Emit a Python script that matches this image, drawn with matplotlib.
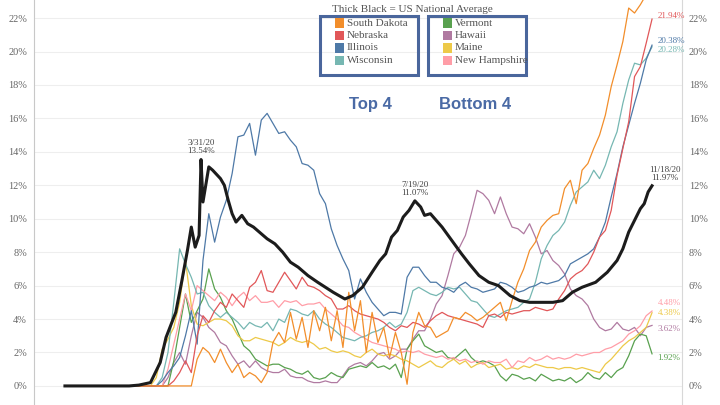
import matplotlib
matplotlib.use("Agg")
import matplotlib.pyplot as plt
from matplotlib.patches import Rectangle
from matplotlib.ticker import FuncFormatter
import pandas as pd

# positivity rate (%) of the 8 states, sampled every 3 days from Mar 2 to Nov 18
grid = pd.date_range("2020-03-02", "2020-11-18", freq="3D")
first_day = pd.Timestamp("2020-01-21")

south_dakota = [0, 0, 0, 0, 0, 0, 0, 0, 0, 1.6,
                2.3, 2.0, 1.4, 2.2, 1.4, 0.8, 1.3, 0.5, 0.8, 0.6,
                0.2, 0.8, 2.6, 3.2, 2.6, 4.4, 2.8, 4.1, 2.3, 4.5,
                3.3, 4.7, 2.7, 4.5, 2.3, 5.6, 3.3, 5.1, 2.0, 4.4,
                2.6, 3.5, 1.7, 3.2, 2.0, 0.1, 3.2, 4.4, 3.6, 3.5,
                2.9, 3.1, 3.3, 4.1, 4.0, 4.4, 4.2, 3.9, 4.1, 4.4,
                4.7, 5.0, 3.9, 5.1, 6.2, 7.0, 8.1, 8.6, 9.5, 9.9,
                10.2, 10.3, 11.8, 12.3, 10.9, 12.9, 13.3, 14.2, 15.0, 16.2,
                17.9, 19.2, 20.6, 22.6, 22.3, 22.8, 23.4, 23.8]
nebraska = [0, 0, 0, 0, 0, 0.3, 0.8, 1.5, 0.8, 3.0,
            4.2, 3.8, 4.5, 5.0, 4.7, 5.5, 5.1, 4.7, 5.9, 6.2,
            6.9, 5.7, 5.6, 6.2, 6.8, 6.3, 5.8, 6.5, 6.0, 5.9,
            5.7, 5.4, 5.2, 4.6, 4.6, 4.8, 4.5, 4.3, 4.2, 4.1,
            4.0, 3.8, 3.5, 3.3, 3.6, 3.5, 3.8, 3.7, 3.5, 3.9,
            4.2, 4.4, 4.2, 4.1, 4.0, 3.9, 3.8, 3.7, 3.5, 4.2,
            4.3, 4.1, 4.4, 4.3, 4.4, 4.5, 4.5, 4.7, 4.6, 4.5,
            4.6, 5.2, 5.7, 6.4, 6.7, 6.9, 7.3, 8.0, 8.9, 9.3,
            10.5, 12.6, 14.2, 15.8, 18.5, 19.1, 20.5, 21.94]
illinois = [0, 0, 0, 0.3, 0.8, 1.2, 1.7, 3.0, 4.5, 2.5,
            7.5, 10.3, 8.6, 10.1, 11.1, 12.7, 14.9, 15.0, 15.7, 13.8,
            15.9, 16.3, 15.7, 15.1, 15.2, 14.7, 14.3, 13.3, 13.2, 12.9,
            11.5, 10.9, 9.4, 8.4, 7.6, 6.9, 5.2, 6.4, 5.6, 5.0,
            4.6, 4.2, 4.4, 4.4, 4.3, 6.5, 7.1, 7.1, 6.6, 6.2,
            6.2, 5.9, 5.8, 5.6, 6.0, 6.2, 5.9, 5.8, 5.6, 5.7,
            5.8, 6.2, 6.1, 5.9, 5.6, 5.7, 5.9, 6.0, 6.2, 6.1,
            6.2, 6.3, 6.6, 7.3, 7.5, 7.7, 7.9, 8.2, 8.9, 9.8,
            11.3, 12.7, 14.3, 15.6, 16.9, 18.1, 19.5, 20.38]
wisconsin = [0, 0, 0, 0.5, 2.0, 5.0, 8.2, 7.3, 6.5, 5.5,
             5.6, 4.8, 4.4, 4.1, 4.4, 4.1, 3.8, 3.4, 3.8, 3.6,
             3.5, 3.8, 3.3, 4.0, 3.8, 4.6, 4.5, 4.3, 4.2, 4.5,
             4.0, 3.7, 3.5, 3.2, 2.9, 2.8, 2.7, 2.9, 3.0, 3.2,
             3.3, 3.5, 3.8, 3.5, 3.7, 4.4, 5.7, 5.9, 5.7, 5.5,
             5.4, 5.6, 5.9, 5.8, 5.9, 5.5, 5.1, 5.0, 4.6, 4.2,
             4.1, 4.3, 4.5, 4.6, 4.7, 5.0, 5.2, 6.2, 7.6, 8.4,
             9.0, 9.3, 9.8, 10.8, 11.6, 11.9, 12.2, 12.9, 12.4, 13.2,
             14.3, 15.2, 16.9, 18.3, 19.3, 19.2, 19.6, 20.28]
vermont = [0, 0, 0, 0, 0, 1.5, 3.5, 5.5, 3.8, 4.5,
           5.2, 7.0, 5.8, 5.3, 4.5, 4.0, 3.2, 2.4, 2.1, 1.6,
           1.4, 1.2, 1.3, 1.3, 1.1, 1.0, 0.8, 0.7, 0.9, 0.5,
           0.4, 0.5, 0.8, 0.6, 0.5, 1.0, 1.1, 1.2, 1.1, 1.4,
           1.1, 1.2, 1.0, 1.3, 0.5, 2.2, 2.7, 3.1, 2.4, 2.2,
           2.0, 2.1, 1.7, 1.6, 1.9, 2.2, 1.7, 1.4, 1.5, 1.4,
           1.2, 0.6, 0.3, 0.7, 0.6, 0.4, 0.5, 0.3, 0.7, 0.5,
           0.3, 0.4, 0.3, 0.5, 0.2, 0.4, 0.8, 0.5, 0.4, 0.8,
           0.5, 0.9, 1.1, 1.8, 2.7, 3.1, 3.0, 1.92]
hawaii = [0, 0, 0, 0, 0.5, 1.4, 2.0, 1.3, 3.0, 4.4,
          4.1, 3.5, 3.2, 2.6, 2.4, 1.8, 1.3, 1.5, 1.1, 1.5,
          1.1, 0.9, 0.8, 0.8, 1.0, 0.6, 0.5, 0.5, 0.3, 0.2,
          0.2, 0.3, 0.2, 0.2, 0.6, 1.1, 1.3, 1.4, 1.2, 1.5,
          1.9, 2.0, 1.6, 1.8, 2.2, 2.2, 2.8, 3.3, 3.3, 4.0,
          4.9, 5.4, 6.6, 7.9, 8.3, 9.0, 10.3, 11.7, 11.5, 11.1,
          10.3, 11.3, 10.3, 9.5, 9.4, 9.1, 9.7, 8.9, 7.9, 8.1,
          7.5, 7.2, 6.7, 5.8, 5.4, 5.2, 4.8, 4.0, 3.5, 3.3,
          3.4, 3.8, 3.4, 3.3, 3.5, 3.0, 3.5, 3.62]
maine = [0, 0, 0.5, 2.2, 2.8, 3.5, 5.0, 7.5, 4.8, 3.7,
         3.6, 3.8, 4.0, 4.0, 3.9, 3.6, 3.0, 2.7, 2.7, 2.9,
         2.8, 2.7, 2.6, 2.4, 2.6, 2.9, 2.7, 2.6, 2.7, 2.5,
         2.2, 2.3, 2.1, 2.0, 2.1, 2.0, 1.8, 1.7, 2.0, 2.2,
         1.9, 1.8, 1.9, 1.8, 1.6, 1.5, 1.3, 1.1, 1.3, 1.5,
         1.2, 1.1, 1.4, 1.6, 1.3, 1.5, 1.1, 1.3, 1.4, 1.1,
         1.2, 1.3, 1.0, 1.1, 1.0, 1.2, 1.1, 1.3, 1.2, 1.1,
         1.1, 1.0, 1.1, 1.1, 1.0, 1.1, 1.0, 0.9, 0.8, 1.3,
         1.6, 2.0, 2.4, 2.7, 2.9, 3.2, 3.5, 4.38]
new_hampshire = [0, 0, 0, 0, 1.0, 2.5, 4.0, 5.5, 4.5, 6.0,
                 5.7, 5.4, 5.1, 5.6, 5.3, 4.8, 5.3, 5.6, 5.1, 5.4,
                 5.0, 5.0, 5.1, 4.7, 5.1, 5.0, 5.1, 4.8, 4.9, 4.9,
                 5.0, 4.6, 4.3, 4.0, 3.6, 3.5, 3.2, 3.0, 2.8, 2.6,
                 2.5, 2.4, 2.3, 2.2, 2.0, 2.1, 2.0, 2.1, 1.9, 1.8,
                 1.7, 1.8, 1.6, 1.7, 1.5, 1.6, 1.4, 1.5, 1.3, 1.5,
                 1.4, 1.4, 1.6, 1.1, 1.5, 1.4, 1.7, 1.5, 1.6, 1.8,
                 1.6, 1.7, 1.6, 1.7, 1.9, 1.8, 1.9, 2.0, 2.0, 2.2,
                 2.3, 2.5, 2.7, 3.1, 3.3, 3.6, 4.2, 4.48]

# US national average (thick black)
us_dates = ["2020-01-21", "2020-02-23", "2020-02-28", "2020-03-05", "2020-03-10",
            "2020-03-13", "2020-03-18", "2020-03-21", "2020-03-24", "2020-03-26",
            "2020-03-28", "2020-03-30", "2020-03-31", "2020-04-01", "2020-04-04",
            "2020-04-06", "2020-04-10", "2020-04-12", "2020-04-14", "2020-04-16",
            "2020-04-18", "2020-04-21", "2020-04-24", "2020-04-27", "2020-05-01",
            "2020-05-04", "2020-05-08", "2020-05-12", "2020-05-16", "2020-05-20",
            "2020-05-25", "2020-05-30", "2020-06-03", "2020-06-07", "2020-06-13",
            "2020-06-17", "2020-06-22", "2020-06-27", "2020-07-01", "2020-07-04",
            "2020-07-07", "2020-07-10", "2020-07-13", "2020-07-16", "2020-07-19",
            "2020-07-22", "2020-07-24", "2020-07-27", "2020-08-02", "2020-08-07",
            "2020-08-12", "2020-08-16", "2020-08-21", "2020-08-26", "2020-08-31",
            "2020-09-06", "2020-09-11", "2020-09-16", "2020-09-23", "2020-09-28",
            "2020-10-03", "2020-10-08", "2020-10-13", "2020-10-20", "2020-10-26",
            "2020-10-31", "2020-11-03", "2020-11-06", "2020-11-09", "2020-11-12",
            "2020-11-14", "2020-11-16", "2020-11-18"]
us_avg = [0, 0, 0.05, 0.2, 1.4, 2.9, 4.4, 6.2, 8.1, 9.5,
          8.3, 9.0, 13.54, 11.0, 13.1, 12.9, 12.4, 12.0, 11.1, 10.3,
          9.8, 10.2, 9.7, 9.5, 9.1, 8.8, 8.5, 8.0, 7.4, 7.1,
          6.6, 6.2, 5.9, 5.6, 5.2, 5.4, 5.9, 6.8, 7.5, 7.9,
          8.9, 9.3, 10.1, 10.5, 11.07, 10.7, 10.2, 10.3, 9.5, 8.7,
          7.9, 7.3, 6.6, 6.2, 6.0, 5.4, 5.1, 5.0, 5.0, 5.0,
          5.1, 5.6, 5.9, 6.2, 6.8, 7.5, 8.2, 9.2, 9.9, 10.6,
          10.9, 11.6, 11.97]

top4 = ["South Dakota", "Nebraska", "Illinois", "Wisconsin"]
bottom4 = ["Vermont", "Hawaii", "Maine", "New Hampshire"]
series = {"South Dakota": south_dakota, "Nebraska": nebraska, "Illinois": illinois,
          "Wisconsin": wisconsin, "Vermont": vermont, "Hawaii": hawaii,
          "Maine": maine, "New Hampshire": new_hampshire}
colors = {"South Dakota": "#f28e2b", "Nebraska": "#e15759", "Illinois": "#4e79a7",
          "Wisconsin": "#76b7b2", "Vermont": "#59a14f", "Hawaii": "#b07aa1",
          "Maine": "#edc948", "New Hampshire": "#ff9da7"}
# end labels: (text, offset in points)
end_labels = {"South Dakota": ("23.67%", (4, 6)), "Nebraska": ("21.94%", (4, 2.5)),
              "Illinois": ("20.38%", (4, 3)), "Wisconsin": ("20.28%", (4, -2.5)),
              "New Hampshire": ("4.48%", (4, 6)), "Maine": ("4.38%", (4, 0)),
              "Hawaii": ("3.62%", (4, -2.5)), "Vermont": ("1.92%", (4, -3))}

serif = "Liberation Serif"
txt_col = "#555555"
box_col = "#4a669c"

fig = plt.figure(figsize=(7.2, 4.05), dpi=100)
ax = fig.add_axes([34 / 720, 0, 648 / 720, 1])

x_all = [first_day] + list(grid)
plot_order = ["Hawaii", "Vermont", "Maine", "New Hampshire", "Wisconsin",
              "Illinois", "Nebraska", "South Dakota"]
for name in plot_order:
    ax.plot(x_all, [0] + series[name], color=colors[name], lw=0.9, zorder=2)
ax.plot(pd.to_datetime(us_dates), us_avg, color="#1c1c1c", lw=2.2, zorder=4,
        solid_joinstyle="round")

for name, (label, off) in end_labels.items():
    ax.annotate(label, (grid[-1], series[name][-1]), xytext=off,
                textcoords="offset points", ha="left", va="center",
                fontsize=6.5, family=serif, color=colors[name])

# callouts on the national line
for d, v, dx in [("2020-03-31", 13.54, 0), ("2020-07-19", 11.07, 0), ("2020-11-18", 11.97, 9)]:
    t = pd.Timestamp(d)
    ax.annotate(f"{t.month}/{t.day}/20\n{v:.2f}%", (t, v), xytext=(dx, 3),
                textcoords="offset points", ha="center", va="bottom",
                fontsize=6.5, family=serif, color="#444444", linespacing=1.0)

ax.set_xlim(pd.Timestamp("2020-01-05 02:00"), pd.Timestamp("2020-12-03 10:00"))
ax.set_ylim(-1.14, 23.08)
ax.set_yticks(range(0, 23, 2))
ax.yaxis.set_major_formatter(FuncFormatter(lambda v, p: f"{v:.0f}%"))
ax.tick_params(axis="y", length=0, labelleft=True, labelright=True, pad=5,
               labelsize=7.5, labelcolor="#666666")
for lab in ax.get_yticklabels():
    lab.set_family(serif)
ax.set_xticks([])
ax.grid(axis="y", color="#eeeeee", lw=0.8, zorder=0)
ax.set_axisbelow(True)
for s in ["top", "bottom"]:
    ax.spines[s].set_visible(False)
ax.spines["left"].set_color("#c8c8c8")
ax.spines["right"].set_color("#d8d8d8")

# legend drawn in pixel positions of the figure
W, H = 720, 405


def fx(px):
    return px / W


def fy(py):
    return 1 - py / H


fig.text(fx(412), fy(10), "Thick Black = US National Average", ha="center", va="center",
         fontsize=8, family=serif, color=txt_col)
for x0, names in [(320, top4), (428, bottom4)]:
    fig.add_artist(Rectangle((fx(x0), fy(75)), fx(98), 59 / H, transform=fig.transFigure,
                             fill=False, ec=box_col, lw=2.2))
    for i, name in enumerate(names):
        yc = 23 + i * 12.5
        fig.add_artist(Rectangle((fx(x0 + 15), fy(yc + 4.5)), fx(9), 9 / H,
                                 transform=fig.transFigure, fc=colors[name], ec="none"))
        fig.text(fx(x0 + 27), fy(yc), name, ha="left", va="center", fontsize=8,
                 family=serif, color=txt_col)

fig.text(fx(370), fy(104), "Top 4", ha="center", va="center", fontsize=12,
         family="Liberation Sans", weight="bold", color="#4a6aa5")
fig.text(fx(475), fy(104), "Bottom 4", ha="center", va="center", fontsize=12,
         family="Liberation Sans", weight="bold", color="#4a6aa5")

fig.savefig("out.png", dpi=100)
